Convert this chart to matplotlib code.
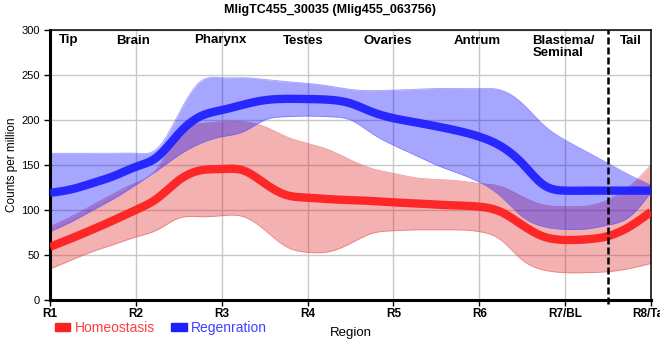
import numpy as np
import matplotlib
matplotlib.use("Agg")
import matplotlib.pyplot as plt
from matplotlib.patches import Patch

plt.rcParams['font.family'] = ['Liberation Sans', 'DejaVu Sans']

# sample positions along the body axis, R1 .. R8 in quarter steps
pos = [1 + 0.25 * i for i in range(29)]
tick_pos = [1, 2, 3, 4, 5, 6, 7, 8]
tick_labels = ["R1", "R2", "R3", "R4", "R5", "R6", "R7/BL", "R8/Tail"]

homeo_mean = [59, 68.5, 78.5, 89, 100, 113, 133, 144, 145.5, 144, 129.6, 116.7, 113.7, 112,
              111, 110, 108.5, 107.4, 106, 105, 103.7, 98, 83.3, 70.4, 66.7, 67.4, 71, 81.5, 98]
homeo_low = [34.5, 44.5, 54, 62, 70, 78, 91, 92.5, 93.7, 92.6, 77.8, 59.3, 53, 53.7,
             63, 74, 77, 78, 78, 78, 76, 66.7, 44.4, 33.3, 30.4, 30.4, 31.5, 35, 40.7]
homeo_high = [81.5, 92.6, 105.6, 118.5, 130, 146, 185, 196, 198, 198, 192.6, 181.5, 174, 166.7,
              155.6, 146, 140.7, 136, 134, 132.5, 129.6, 126, 114.8, 105.6, 103.7, 104.4, 111, 126, 150]

regen_mean = [119, 123, 130, 138, 148, 159, 185, 204, 211, 217, 222, 223.5, 223.3, 222.5,
              218.5, 209, 202, 197.5, 193, 188, 181.5, 171, 151.8, 127.8, 121.5, 121.5, 121.5, 121.5, 121.5]
regen_low = [76, 87, 100, 113, 128, 144, 161, 174, 181.5, 187, 200, 203.7, 204.4, 203.7,
             200, 185, 172, 161, 150, 141, 131, 115, 92.6, 81.5, 78.5, 79, 83.3, 92.6, 120]
regen_high = [163, 163, 163, 163, 163, 168.5, 207, 242.6, 247, 247, 245, 242.6, 240.7, 237.8,
              234, 232.6, 233.3, 234, 235, 235, 235, 233.3, 218.5, 194.4, 177.8, 164.8, 151.8, 138.9, 127.8]

regions = ["Tip", "Brain", "Pharynx", "Testes", "Ovaries", "Antrum", "Blastema/\nSeminal", "Tail"]
region_x = [1.22, 1.97, 2.98, 3.95, 4.93, 5.98, 6.62, 7.76]
region_ha = ["center"] * 6 + ["left", "center"]


def smooth(x, y, n=700):
    # natural cubic spline through the samples
    x = np.asarray(x, float)
    y = np.asarray(y, float)
    N = len(x)
    h = np.diff(x)
    A = np.zeros((N, N))
    b = np.zeros(N)
    A[0, 0] = A[-1, -1] = 1
    for i in range(1, N - 1):
        A[i, i - 1] = h[i - 1]
        A[i, i] = 2 * (h[i - 1] + h[i])
        A[i, i + 1] = h[i]
        b[i] = 6 * ((y[i + 1] - y[i]) / h[i] - (y[i] - y[i - 1]) / h[i - 1])
    M = np.linalg.solve(A, b)
    xs = np.linspace(x[0], x[-1], n)
    k = np.clip(np.searchsorted(x, xs) - 1, 0, N - 2)
    a = x[k + 1] - xs
    c = xs - x[k]
    hk = h[k]
    ys = (M[k] * a**3 + M[k + 1] * c**3) / (6 * hk) \
        + (y[k] / hk - M[k] * hk / 6) * a + (y[k + 1] / hk - M[k + 1] * hk / 6) * c
    return xs, ys


fig = plt.figure(figsize=(6.6, 3.6), dpi=100)
ax = fig.add_axes([50 / 660, 60 / 360, 601 / 660, 270 / 360])

red = "#ff2020"
blue = "#2020ff"

for low, high, c, ec in [(homeo_low, homeo_high, "#e02020", "#e06060"),
                         (regen_low, regen_high, "#0000ff", "#6060ff")]:
    xs, lo = smooth(pos, low)
    _, hi = smooth(pos, high)
    ax.fill_between(xs, lo, hi, color=c, alpha=0.35, lw=0, zorder=2)
    ax.plot(xs, lo, color=ec, lw=0.6, alpha=0.6, zorder=2)
    ax.plot(xs, hi, color=ec, lw=0.6, alpha=0.6, zorder=2)

xs, ys = smooth(pos, homeo_mean)
ax.plot(xs, ys, color=red, lw=6, alpha=0.95, solid_capstyle="butt", zorder=3)
xs, ys = smooth(pos, regen_mean)
ax.plot(xs, ys, color=blue, lw=6, alpha=0.95, solid_capstyle="butt", zorder=3)

ax.axvline(7.5, ymin=-0.015, color="black", lw=1.8, dashes=(2.8, 1.2), clip_on=False, zorder=4)

ax.set_xlim(1, 8)
ax.set_ylim(0, 300)
ax.set_xticks(tick_pos)
ax.set_xticklabels(tick_labels, fontweight="bold", fontsize=8.5)
ax.set_yticks(range(0, 301, 50))
ax.tick_params(axis="y", labelsize=8, length=4, width=1)
ax.tick_params(axis="x", length=4, width=1, pad=2)
ax.grid(True, color="#c8c8c8", lw=1, zorder=0)
ax.set_axisbelow(True)
for s in ["left", "bottom"]:
    ax.spines[s].set_linewidth(2.2)
for s in ["top", "right"]:
    ax.spines[s].set_linewidth(1.1)

for name, x, ha in zip(regions, region_x, region_ha):
    ax.text(x, 295, name, ha=ha, va="top", fontsize=9.5, fontweight="bold",
            linespacing=1.1, zorder=5)

ax.set_ylabel("Counts per million", fontsize=8.5, labelpad=2)
ax.set_xlabel("Region", fontsize=9.5, labelpad=5)
fig.text(330 / 660, 1 - 10 / 360, "MligTC455_30035 (Mlig455_063756)", ha="center",
         va="center", fontsize=9, fontweight="bold")

handles = [Patch(color=red, label="Homeostasis"), Patch(color=blue, label="Regenration")]
leg = fig.legend(handles=handles, loc="center left", bbox_to_anchor=(55 / 660, 1 - 328 / 360),
                 ncol=2, frameon=False, fontsize=10, handlelength=1.1, handleheight=0.55,
                 handletextpad=0.3, columnspacing=1.2, borderaxespad=0, borderpad=0)
for t, c in zip(leg.get_texts(), ["#ff4040", "#4040ff"]):
    t.set_color(c)

fig.savefig("out.png", dpi=100)
